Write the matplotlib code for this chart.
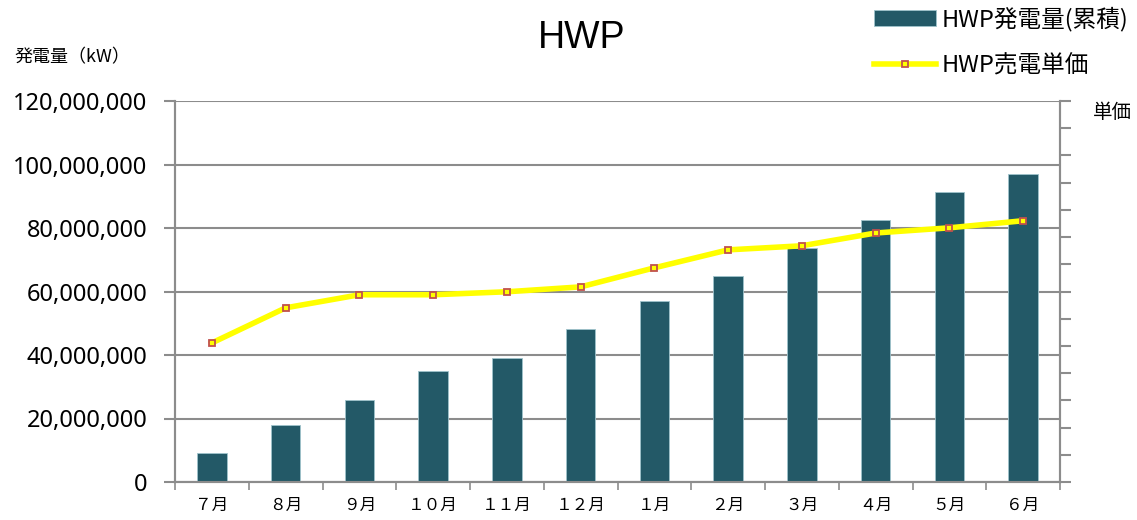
import matplotlib
matplotlib.use("Agg")
import matplotlib.pyplot as plt
from matplotlib.ticker import FuncFormatter, MultipleLocator

plt.rcParams['font.family'] = ['Noto Sans CJK JP', 'DejaVu Sans']

months = ["７月", "８月", "９月", "１０月", "１１月", "１２月", "１月", "２月", "３月", "４月", "５月", "６月"]
generation = [9.1e6, 17.9e6, 25.8e6, 35.0e6, 39.0e6, 48.2e6, 57.0e6, 64.9e6, 73.7e6, 82.5e6, 91.3e6, 97.0e6]
unit_price = [5.11, 6.40, 6.88, 6.88, 6.99, 7.17, 7.87, 8.53, 8.68, 9.15, 9.34, 9.60]

bar_color = "#235967"
grid_color = "#8c8c8c"

fig = plt.figure(figsize=(11.37, 5.2), dpi=100)
ax = fig.add_axes([175/1137, 38/520, 885/1137, 381/520])
ax2 = ax.twinx()

x = list(range(len(months)))
bars = ax.bar(x, generation, width=0.4, color=bar_color, edgecolor="#9fc3cc", linewidth=0.6, zorder=3,
              label="HWP発電量(累積)")
line, = ax2.plot(x, unit_price, color="#ffff00", linewidth=4, marker="s", markersize=5,
                 markerfacecolor="#ffff00", markeredgecolor="#c0504d", markeredgewidth=1.3,
                 zorder=4, label="HWP売電単価")

ax.set_xlim(-0.5, len(months) - 0.5)
ax.set_ylim(0, 120e6)
ax.yaxis.set_major_locator(MultipleLocator(20e6))
ax.yaxis.set_major_formatter(FuncFormatter(lambda v, p: f"{int(v):,}"))
ax.grid(axis="y", color=grid_color, linewidth=1.5, zorder=0)
ax.set_axisbelow(True)

ax.set_xticks([i + 0.5 for i in range(-1, len(months))])
ax.set_xticklabels([])
ax.set_xticks(x, minor=True)
ax.set_xticklabels(months, minor=True, fontsize=12)
ax.tick_params(axis="x", which="minor", length=0, pad=11)
ax.tick_params(axis="x", which="major", length=6, width=1.2, color=grid_color, direction="out")
ax.tick_params(axis="y", length=8, width=1.5, color=grid_color, pad=12)
for t in ax.get_yticklabels():
    t.set_fontfamily("Noto Sans")
    t.set_fontsize(17)

ax2.set_ylim(0, 14)
ax2.yaxis.set_major_locator(MultipleLocator(1))
ax2.set_yticklabels([])
ax2.tick_params(axis="y", length=8, width=1.5, color=grid_color)

for a in (ax, ax2):
    for s in a.spines.values():
        s.set_color(grid_color)
        s.set_linewidth(1.5)
    a.spines["top"].set_visible(False)

fig.text(582/1137, 1 - 38/520, "HWP", fontsize=27, ha="center", va="center", family="Liberation Sans")
fig.text(14/1137, 1 - 57/520, "発電量（kW）", fontsize=13, ha="left", va="center")
fig.text(1093/1137, 1 - 112/520, "単価", fontsize=14, ha="left", va="center")

fig.legend(handles=[bars, line], loc="upper right", bbox_to_anchor=(1.005, 1.015),
           frameon=False, fontsize=17, handlelength=2.6, handletextpad=0.25, labelspacing=1.0,
           borderaxespad=0.2)

fig.savefig("out.png", dpi=100)
